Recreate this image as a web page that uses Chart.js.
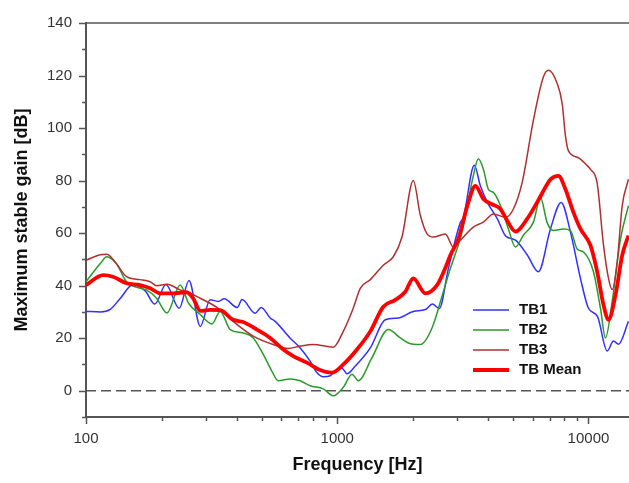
<!DOCTYPE html>
<html>
<head>
<meta charset="utf-8">
<script src="https://cdn.jsdelivr.net/npm/chart.js@4.4.1/dist/chart.umd.min.js"></script>
<style>
  html, body { margin: 0; padding: 0; background: #fff; }
  #wrap { width: 629px; height: 483px; position: relative; }
</style>
</head>
<body>
<div id="wrap"><canvas id="myChart"></canvas></div>
<script>
// values, frequency in Hz, gain in dB
tb1Freq = [100,114,125,137,154,172,188,208,235,257,285,312,336,355,400,418,471,498,541,566,650,712,780,830,880,938,964,1044,1093,1180,1354,1553,1750,2008,2242,2391,2549,2769,3090,3177,3514,3713,3959,4340,4670,5120,5715,6322,7058,7785,8480,9293,10000,10860,11873,12580,13170,14430];
tb1Gain = [30.2,30,31,35.2,40.4,38,33,40.4,31.4,42,24.5,34.6,34,35,31.7,34.7,29.5,31.7,27.7,26.4,20,16.3,11.3,6.9,5.3,5.7,6.9,8.6,6.5,9.4,16.3,27,27.7,30.2,30.9,33,31.3,46.5,64,66,85.8,78,71.7,65.4,59,57.3,51.6,45.3,61.6,71.7,60.4,42.8,31.4,28.3,15.1,18.9,17.7,26.4];

tb2Freq = [100,114,121,132,145,164,174,191,210,237,256,285,317,342,375,422,463,507,549,582,650,712,780,880,964,1057,1145,1213,1375,1597,1782,1918,2142,2384,2645,2820,2998,3139,3482,3646,3817,3996,4183,4461,4801,5120,5508,6038,6439,6848,7255,7951,8480,9016,9553,10469,11162,11688,12430,13415,14430];
tb2Gain = [41.5,48.4,51,48.4,41.5,39,38.4,35.2,29.6,40.3,33.3,29,25.4,30.2,23.3,22,20.1,13.9,7.5,3.8,4.5,3.8,1.9,0.7,-1.9,1.3,6.3,3.8,12.6,23.3,20.1,18.2,17.6,23.9,37.7,46.5,54,60.4,81.9,88.3,84.3,76.7,75.5,70.6,61.6,54.7,59.2,64.2,73.6,64,61,61.6,61,54,52.8,45.3,31.4,20.1,34,57.8,70.5];

tb3Freq = [100,114,121,132,145,164,180,191,210,237,260,285,332,385,463,556,638,712,802,964,1057,1158,1235,1354,1525,1672,1810,2008,2142,2278,2413,2694,2899,3090,3482,3817,4183,4670,5027,5444,6038,6618,6929,7505,7857,8099,8324,9125,9881,10186,10832,11475,12016,12430,13014,13627,14430];
tb3Gain = [49.7,51.8,52,48.4,43.4,42.3,41.5,40,40.5,38.4,37.1,35.2,31.7,26.4,20.8,17.6,16.1,17,17.6,16.6,22.6,31.4,39,42.3,47.8,51,58.5,80,66.8,59.7,58.5,59.7,54.7,57.3,62.3,64.2,67.3,66,69.2,79.2,103,119.5,122,117,109.4,97,91.3,88.7,85.7,84.3,79,55.5,42.8,38.5,49,70.5,80.5];

meanFreq = [100,117,128,145,164,180,197,222,252,267,285,312,342,385,422,479,541,610,668,758,840,953,1057,1198,1354,1525,1703,1866,2008,2242,2496,2737,2820,3034,3326,3547,3817,4133,4461,4744,5120,5699,6246,6848,7058,7596,8099,8716,9293,10186,10832,11475,12016,12814,13627,14430];
meanGain = [40.2,44,43.4,40.9,40.2,39,37.1,37.1,37.5,35.2,30.4,30.8,30.7,27,26.2,23.3,20.1,15.7,13.2,10.7,8.2,6.9,10,15.7,22.6,32,34.6,37.7,42.8,37.1,40.2,48.4,51.6,57.8,71.7,78,73,71,69.2,64.8,60.6,65.4,71.7,78.6,80.5,81.8,76.7,67.9,61.6,55.3,45.3,32.7,27,36.5,51.6,59.1];

zeroFreq = [100, 14500];
zeroGain = [0, 0];

xTickValues = [100, 1000, 10000];
yTickValues = [0, 20, 40, 60, 80, 100, 120, 140];

axisColor = '#555555';
fontFamily = '"Liberation Sans", Arial, sans-serif';

function pairs(xs, ys) {
    return xs.map((f, i) => ({ x: f, y: ys[i] }))
}

function series(label, xs, ys, color, width, order) {
    return {
        label: label,
        data: pairs(xs, ys),
        borderColor: color,
        borderWidth: width,
        pointRadius: 0,
        cubicInterpolationMode: 'monotone',
        fill: false,
        order: order
    }
}

// ticks, top frame line and the inset legend
const axisExtras = {
    id: 'axisExtras',
    afterDraw(chart) {
        const { ctx, chartArea: a, scales: { x, y } } = chart;
        ctx.save();
        ctx.strokeStyle = axisColor;
        ctx.lineWidth = 1.5;
        ctx.beginPath();
        ctx.moveTo(a.left, a.top);
        ctx.lineTo(a.right, a.top);
        for (let v = y.min; v <= y.max; v += 10) {
            const len = yTickValues.includes(v) ? 7 : 4;
            const py = Math.round(y.getPixelForValue(v)) + 0.5;
            ctx.moveTo(a.left - len, py);
            ctx.lineTo(a.left, py);
        }
        for (let d = 100; d <= x.max; d *= 10) {
            for (let m = 1; m < 10; m++) {
                const v = d * m;
                if (v > x.max) break;
                const len = m === 1 ? 7 : 4;
                const px = Math.round(x.getPixelForValue(v)) + 0.5;
                ctx.moveTo(px, a.bottom);
                ctx.lineTo(px, a.bottom + len);
            }
        }
        ctx.stroke();

        const lx = a.left + 387, ly = a.top + 287;
        ctx.font = 'bold 15px ' + fontFamily;
        ctx.textBaseline = 'middle';
        ctx.textAlign = 'left';
        chart.data.datasets.slice(0, 4).forEach((ds, i) => {
            const yy = ly + i * 20;
            ctx.strokeStyle = ds.borderColor;
            ctx.lineWidth = ds.borderWidth;
            ctx.beginPath();
            ctx.moveTo(lx, yy);
            ctx.lineTo(lx + 36, yy);
            ctx.stroke();
            ctx.fillStyle = '#111';
            ctx.fillText(ds.label, lx + 46, yy);
        });
        ctx.restore();
    }
};

const ctx = document.getElementById('myChart');
const data = {
    datasets: [
        series('TB1', tb1Freq, tb1Gain, '#3030ff', 1.5, 3),
        series('TB2', tb2Freq, tb2Gain, '#2a9a2a', 1.5, 2),
        series('TB3', tb3Freq, tb3Gain, '#b03030', 1.5, 1),
        series('TB Mean', meanFreq, meanGain, '#ff0000', 3.8, 0),
        {
            label: 'zero',
            data: pairs(zeroFreq, zeroGain),
            borderColor: '#555555',
            borderWidth: 1.6,
            borderDash: [10, 5],
            pointRadius: 0,
            order: 5
        }
    ]
};

const config = {
    type: 'line',
    data: data,
    options: {
        responsive: true,
        maintainAspectRatio: false,
        animation: false,
        layout: { padding: { top: 19, left: 0, right: 0, bottom: 0 } },
        scales: {
            x: {
                type: 'logarithmic',
                min: 100,
                max: 14500,
                afterBuildTicks: (s) => { s.ticks = xTickValues.map(v => ({ value: v })) },
                afterFit: (s) => { s.height = 66 },
                grid: { display: false, drawTicks: false },
                border: { display: true, color: axisColor, width: 2 },
                ticks: {
                    autoSkip: false,
                    maxRotation: 0,
                    padding: 13,
                    color: '#333',
                    font: { size: 15, family: fontFamily },
                    callback: (v) => String(v)
                },
                title: {
                    display: true,
                    text: 'Frequency [Hz]',
                    color: '#111',
                    font: { size: 18, weight: 'bold', family: fontFamily },
                    padding: { top: 0, bottom: 7 }
                }
            },
            y: {
                min: -10,
                max: 140,
                afterBuildTicks: (s) => { s.ticks = yTickValues.map(v => ({ value: v })) },
                afterFit: (s) => { s.width = 86 },
                grid: { display: false, drawTicks: false },
                border: { display: true, color: axisColor, width: 2 },
                ticks: {
                    padding: 14,
                    color: '#333',
                    font: { size: 15, family: fontFamily },
                    callback: (v) => String(v)
                },
                title: {
                    display: true,
                    text: 'Maximum stable gain [dB]',
                    color: '#111',
                    font: { size: 18, weight: 'bold', family: fontFamily },
                    padding: { top: 11, bottom: 0 }
                }
            }
        },
        plugins: {
            legend: { display: false },
            tooltip: { enabled: false }
        }
    },
    plugins: [axisExtras]
};

chart = new Chart(ctx, config);
</script>
</body>
</html>
